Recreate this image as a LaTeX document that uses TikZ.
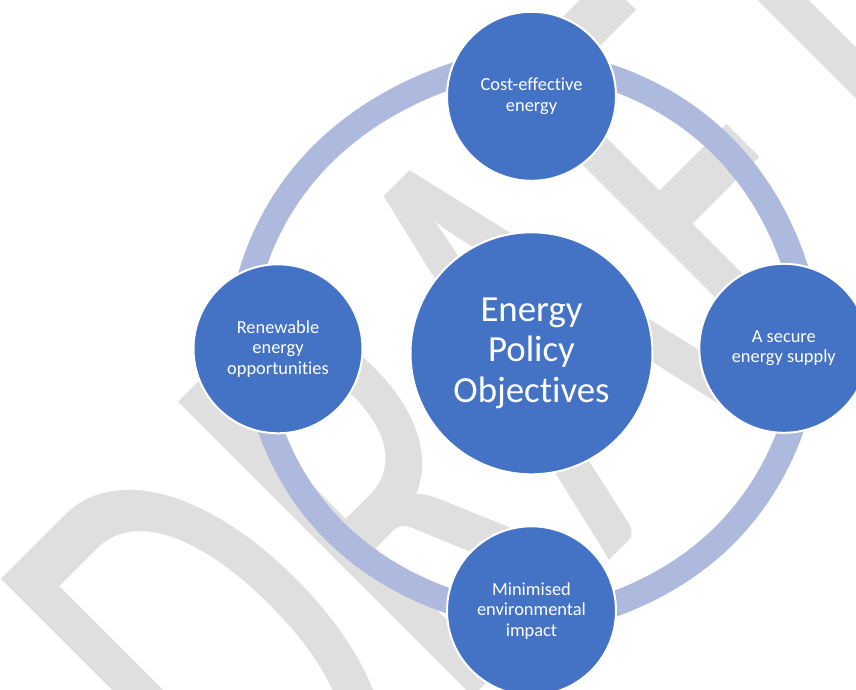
\documentclass[tikz,border=0pt]{standalone}
\usepackage{graphicx}
\usepackage{fontspec}
\setmainfont{Carlito}[Ligatures=NoCommon]
\newfontfamily\wmfont{Carlito}[Kerning=Off, Ligatures=NoCommon]
\usetikzlibrary{positioning,backgrounds}

\definecolor{nodeblue}{RGB}{68,114,196}
\definecolor{ringblue}{RGB}{174,186,221}
\definecolor{wmgray}{RGB}{223,223,223}

\tikzset{
    hub/.style={circle, fill=nodeblue, draw=white, line width=1.5pt, inner sep=0pt,
        minimum size=181.5pt, text=white, align=center,
        font=\fontsize{27.6pt}{30.5pt}\selectfont},
    sat/.style={hub, minimum size=126.75pt, font=\fontsize{13.8pt}{15.4pt}\selectfont},
    link/.style={draw=ringblue, line width=18.75pt, looseness=0.9,
        shorten <=-8pt, shorten >=-8pt}
}

\begin{document}
\begin{tikzpicture}[x=0.75pt, y=0.75pt]
    \useasboundingbox (-531.5,-335.7) rectangle (324.5,353.3);

    % objectives
    \node[hub] (policy) at (0,0) {Energy\\Policy\\Objectives};
    \node[sat] (cost) at (0,257) {Cost-effective\\energy};
    \node[sat] (secure) at (252.3,5) {A secure\\energy supply};
    \node[sat] (impact) at (0,-257.5) {Minimised\\environmental\\impact};
    \node[sat] (renew) at (-253.5,4.5) {Renewable\\energy\\opportunities};

    % watermark, stretched upright
    \begin{scope}[on background layer]
        \node[rotate=45, anchor=base west, inner sep=0pt, text=wmgray,
            font=\wmfont\fontsize{304.5pt}{304.5pt}\selectfont] (wm) at (-255.5,-540.7)
            {\scalebox{1}[1.6]{DRAFT}};
    \end{scope}

    % cycle arcs
    \begin{scope}[on background layer]
        \draw[link] (cost.167) to[out=198, in=74] (renew.107);
        \draw[link] (renew.266) to[out=289, in=162] (impact.173);
        \draw[link] (impact.5) to[out=19, in=251] (secure.274);
        \draw[link] (secure.83) to[out=107, in=-18] (cost.12);
    \end{scope}
\end{tikzpicture}
\end{document}
